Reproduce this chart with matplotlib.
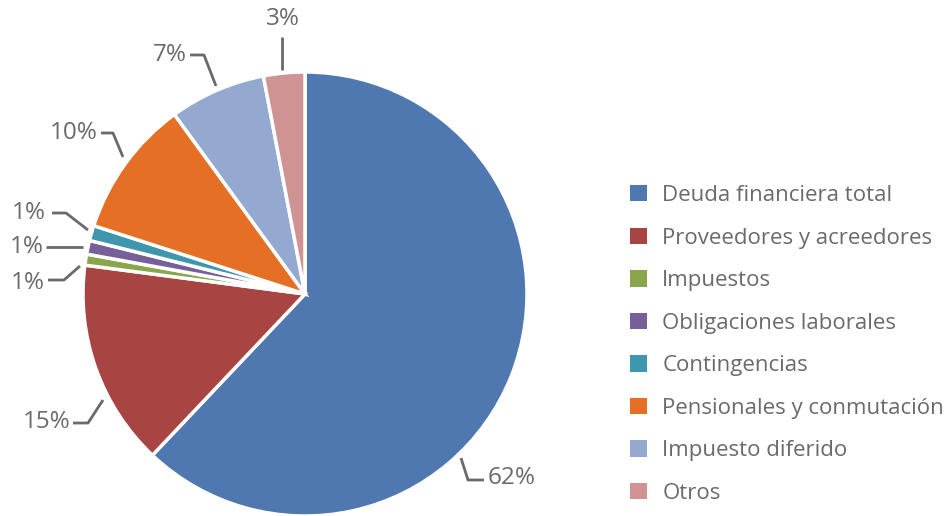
import matplotlib
matplotlib.use("Agg")
import matplotlib.pyplot as plt
from matplotlib.patches import Patch

# data
categories = [
    "Deuda financiera total",
    "Proveedores y acreedores",
    "Impuestos",
    "Obligaciones laborales",
    "Contingencias",
    "Pensionales y conmutación",
    "Impuesto diferido",
    "Otros",
]
shares = [62, 15, 0.8, 1.0, 1.1, 10, 7, 3]
pct_labels = ["62%", "15%", "1%", "1%", "1%", "10%", "7%", "3%"]
colors = ["#4F77B0", "#A84543", "#8AA64A", "#77609A",
          "#3E97AE", "#E56F24", "#93A9CF", "#CF9393"]

# label layout in image pixels (x, y from top): leader path and text anchor
leaders = [
    ([(461, 458), (468, 480), (484, 480)], (488, 478), "left"),
    ([(103, 400), (88, 423), (73, 423)], (71, 422), "right"),
    ([(80, 266), (64, 280), (48, 280)], (45, 283), "right"),
    ([(83, 247), (46, 247)], (44, 247), "right"),
    ([(88, 230), (66, 213), (52, 213)], (46, 213), "right"),
    ([(123, 157), (113, 133), (101, 133)], (98, 133), "right"),
    ([(216, 86), (204, 55), (190, 55)], (187, 55), "right"),
    ([(282, 70), (282, 37)], (283, 19), "center"),
]

W, H = 948, 516
FONT = ["Open Sans", "DejaVu Sans"]
TXT = "#6A6A6A"
LINE = "#6A6A6A"

fig = plt.figure(figsize=(W / 100, H / 100), dpi=100)
ax = fig.add_axes([0, 0, 1, 1])

ax.pie(shares, colors=colors, startangle=90, counterclock=False,
       center=(305, H - 294), radius=222,
       wedgeprops=dict(edgecolor="white", linewidth=2.5))

# pie() resets the limits, so set them afterwards
ax.set_xlim(0, W)
ax.set_ylim(0, H)
ax.set_aspect("equal")
ax.axis("off")

for (path, (tx, ty), ha) in leaders:
    xs = [p[0] for p in path]
    ys = [H - p[1] for p in path]
    ax.plot(xs, ys, color=LINE, lw=2, solid_capstyle="butt")

for (path, (tx, ty), ha), lab in zip(leaders, pct_labels):
    ax.text(tx, H - ty, lab, ha=ha, va="center", fontsize=17.5,
            color=TXT, family=FONT)

handles = [Patch(facecolor=c, edgecolor="none") for c in colors]
leg = ax.legend(handles, categories, loc="upper left",
                bbox_to_anchor=(610 / W, 1 - 165 / H), frameon=False,
                prop={"family": FONT, "size": 16},
                handlelength=0.75, handleheight=0.75, handletextpad=0.7,
                labelspacing=0.97)
for t in leg.get_texts():
    t.set_color(TXT)

fig.savefig("out.png", dpi=100)
